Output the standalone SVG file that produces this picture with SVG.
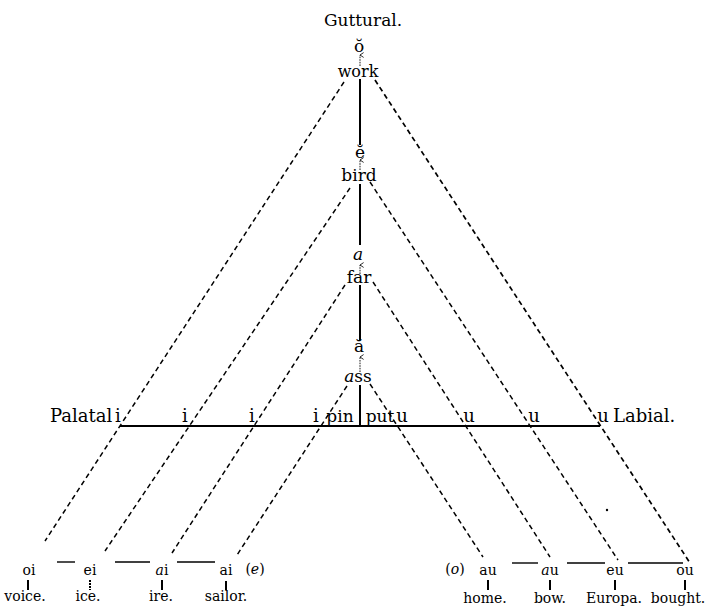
<svg xmlns="http://www.w3.org/2000/svg" width="718" height="611" viewBox="0 0 718 611">
<style>
text{font-family:"DejaVu Serif","Liberation Serif",serif;fill:#000;text-anchor:middle}
.v{font-size:17px}
.w{font-size:17px}
.h{font-size:18px}
.b{font-size:14px}
.it{font-style:italic}
.dash{stroke:#000;stroke-width:1.5;stroke-dasharray:5 3.5;fill:none}
.solid{stroke:#000;stroke-width:2;fill:none}
.thin{stroke:#000;stroke-width:1.4;fill:none}
.arr{stroke:#000;stroke-width:0.9;stroke-dasharray:1.6 1;fill:none;marker-end:url(#ah)}
</style>
<defs>
<marker id="ah" viewBox="0 0 10 10" refX="5" refY="2" markerWidth="6" markerHeight="6" orient="auto-start-reverse" markerUnits="userSpaceOnUse">
<path d="M1,8 L5,2 L9,8" fill="none" stroke="#000" stroke-width="1.4"/>
</marker>
</defs>
<rect width="718" height="611" fill="#fff"/>
<g id="connectors">
<line class="dash" x1="344" y1="82" x2="45" y2="541"/>
<line class="dash" x1="350" y1="188" x2="105" y2="551"/>
<line class="dash" x1="345" y1="285" x2="172" y2="553"/>
<line class="dash" x1="347" y1="386" x2="237" y2="555"/>
<line class="dash" x1="375" y1="80" x2="690" y2="563" style="stroke-width:1.7"/>
<line class="dash" x1="370" y1="182" x2="618" y2="560"/>
<line class="dash" x1="373" y1="282" x2="550" y2="557"/>
<line class="dash" x1="370" y1="384" x2="483" y2="557"/>
<line class="solid" x1="120" y1="426" x2="600" y2="426"/>
<line class="solid" x1="360" y1="79" x2="360" y2="145"/>
<line class="solid" x1="360" y1="184" x2="360" y2="245"/>
<line class="solid" x1="360" y1="285" x2="360" y2="340"/>
<line class="solid" x1="360" y1="385" x2="360" y2="426"/>
<line class="arr" x1="360" y1="66" x2="360" y2="55"/>
<line class="arr" x1="360" y1="170" x2="360" y2="160"/>
<line class="arr" x1="360" y1="274" x2="360" y2="265"/>
<line class="arr" x1="360" y1="372" x2="360" y2="357"/>
<line class="thin" x1="57" y1="562" x2="75" y2="562"/>
<line class="thin" x1="115" y1="562" x2="150" y2="562"/>
<line class="thin" x1="177" y1="562" x2="215" y2="562"/>
<line class="thin" x1="512" y1="563" x2="538" y2="563"/>
<line class="thin" x1="567" y1="563" x2="605" y2="563"/>
<line class="thin" x1="628" y1="563" x2="683" y2="563"/>
<line class="solid" x1="28" y1="580" x2="28" y2="590"/>
<line class="solid" x1="90" y1="580" x2="90" y2="590" stroke-dasharray="2 1"/>
<line class="solid" x1="162" y1="580" x2="162" y2="590"/>
<line class="solid" x1="226" y1="581" x2="226" y2="590"/>
<line class="solid" x1="488" y1="580" x2="488" y2="590"/>
<line class="solid" x1="550" y1="580" x2="550" y2="590"/>
<line class="solid" x1="615" y1="580" x2="615" y2="590"/>
<line class="solid" x1="685" y1="580" x2="685" y2="590"/>
<circle cx="607" cy="510" r="1.2" fill="#000"/>
</g>
<g id="guttural"><text class="w" x="363" y="26">Guttural.</text></g>
<g id="n-o"><text class="v" x="359" y="52">ŏ</text><text class="w" x="358" y="77" style="font-size:16px">work</text></g>
<g id="n-e"><text class="v" x="360" y="158">ĕ</text><text class="w" x="359" y="181">bird</text></g>
<g id="n-a"><text class="v it" x="358" y="260">a</text><text class="w" x="359" y="283">far</text></g>
<g id="n-a2"><text class="v" x="359" y="352">ă</text><text class="w" x="358" y="382"><tspan class="it">a</tspan>ss</text></g>
<g id="palatal">
<text class="h" x="50" y="422" style="text-anchor:start">Palatal</text>
<text class="h" x="118" y="422">i</text>
<text class="h" x="185" y="422">i</text>
<text class="h" x="252" y="422">i</text>
<text class="h" x="316" y="422">i</text>
<text class="w" x="340" y="422">pin</text>
</g>
<g id="labial">
<text class="w" x="380" y="422">put</text>
<text class="h" x="402" y="422">u</text>
<text class="h" x="469" y="422">u</text>
<text class="h" x="534" y="422">u</text>
<text class="h" x="603" y="422">u</text>
<text class="h" x="613" y="422" style="text-anchor:start">Labial.</text>
</g>
<g id="b-oi"><text class="b" x="29" y="575">oi</text><text class="b" x="25" y="601">voice.</text></g>
<g id="b-ei"><text class="b" x="90" y="575">ei</text><text class="b" x="88" y="601">ice.</text></g>
<g id="b-ai1"><text class="b" x="162" y="575"><tspan class="it">a</tspan>i</text><text class="b" x="161" y="601">ire.</text></g>
<g id="b-ai2"><text class="b" x="226" y="575">ai</text><text class="b" x="226" y="601">sailor.</text><text class="b" x="255" y="574">(<tspan class="it">e</tspan>)</text></g>
<g id="b-au1"><text class="b" x="455" y="574">(<tspan class="it">o</tspan>)</text><text class="b" x="488" y="575">au</text><text class="b" x="485" y="603">home.</text></g>
<g id="b-au2"><text class="b" x="550" y="575"><tspan class="it">a</tspan>u</text><text class="b" x="550" y="603">bow.</text></g>
<g id="b-eu"><text class="b" x="615" y="575">eu</text><text class="b" x="614" y="603">Europa.</text></g>
<g id="b-ou"><text class="b" x="685" y="575">ou</text><text class="b" x="678" y="603">bought.</text></g>
</svg>
